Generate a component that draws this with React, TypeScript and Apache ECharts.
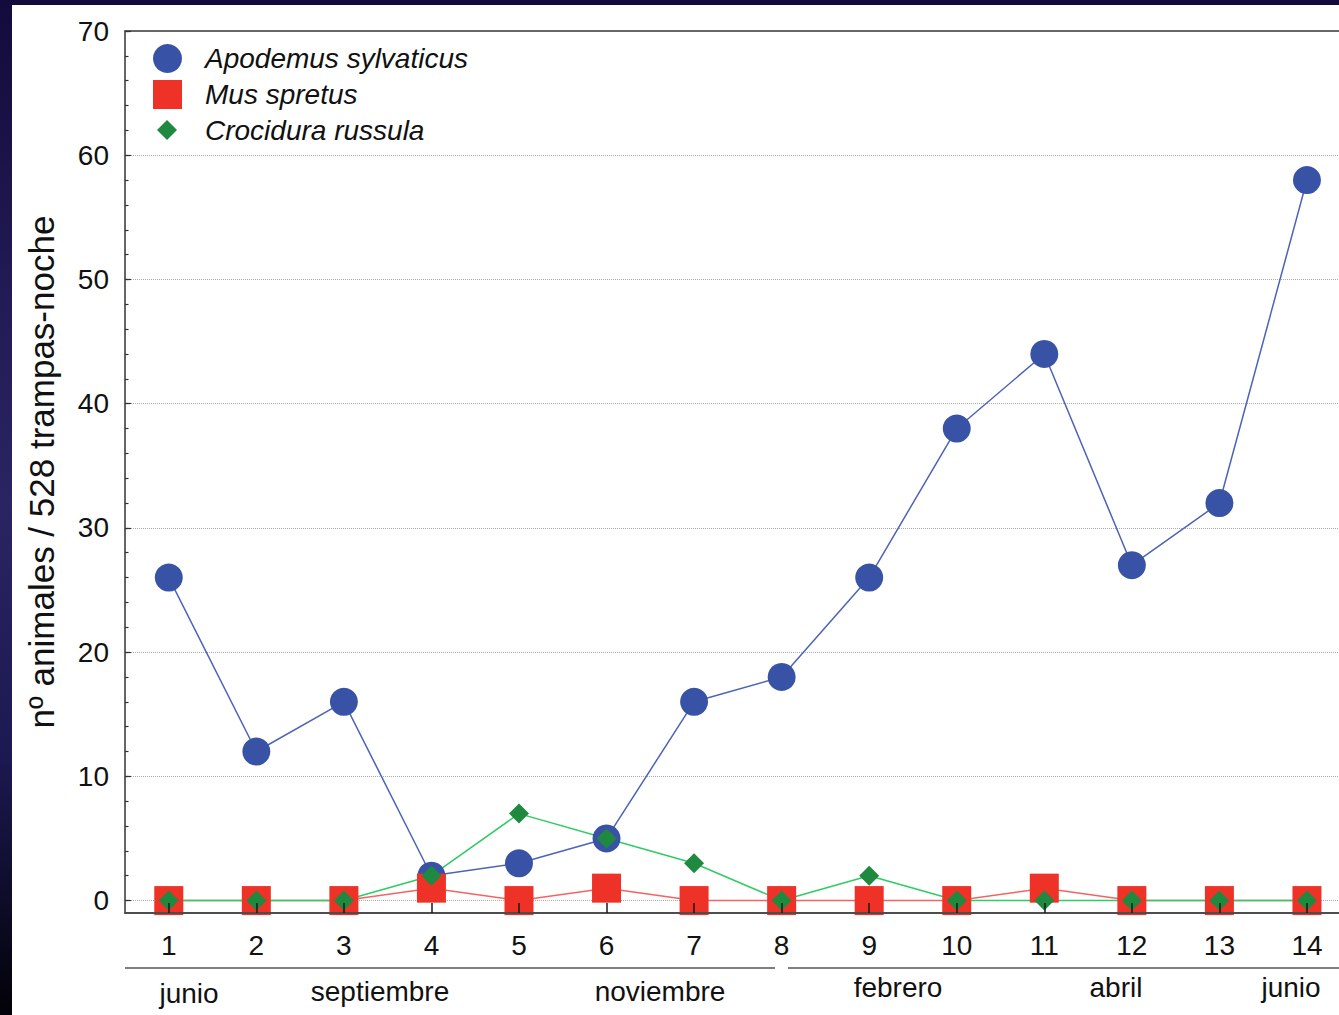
import React, { useEffect, useRef } from 'react';
import * as echarts from 'echarts';

const samples = [1, 2, 3, 4, 5, 6, 7, 8, 9, 10, 11, 12, 13, 14];
const apodemus = [26, 12, 16, 2, 3, 5, 16, 18, 26, 38, 44, 27, 32, 58];
const mus = [0, 0, 0, 1, 0, 1, 0, 0, 0, 0, 1, 0, 0, 0];
const crocidura = [0, 0, 0, 2, 7, 5, 3, 0, 2, 0, 0, 0, 0, 0];
const yMajorTicks = [0, 10, 20, 30, 40, 50, 60, 70];
const yMinorTicks = [0, 2, 4, 6, 8, 10, 12, 14, 16, 18, 20, 22, 24, 26, 28, 30, 32, 34, 36, 38, 40, 42, 44, 46, 48, 50, 52, 54, 56, 58, 60, 62, 64, 66, 68, 70];
const monthLabels = ['junio', 'septiembre', 'noviembre', 'febrero', 'abril', 'junio'];
const seriesNames = ['Apodemus sylvaticus', 'Mus spretus', 'Crocidura russula'];
const yTitle = 'nº animales / 528 trampas-noche';

// layout (pixel positions inside the chart div) for the month captions
const monthLayout = [
  { x: 177, y: 988 },
  { x: 368, y: 986 },
  { x: 648, y: 986 },
  { x: 886, y: 982 },
  { x: 1104, y: 982 },
  { x: 1279, y: 982 },
];

const FONT = '"Liberation Sans", Arial, sans-serif';

export default function App() {
  const ref = useRef<HTMLDivElement>(null);
  useEffect(() => {
    if (!ref.current) return;
    const chart = echarts.init(ref.current, null, { renderer: 'svg' });
    const pairs = (vals: number[]) => samples.map((s, i) => [s, vals[i]]);
    const legendText = (pad: number) => ({
      fontSize: 28,
      fontStyle: 'italic',
      color: '#111',
      fontFamily: FONT,
      padding: [0, 0, 0, pad],
    });
    chart.setOption({
      animation: false,
      backgroundColor: '#ffffff',
      textStyle: { fontFamily: FONT },
      grid: { left: 113, top: 26, right: 0, bottom: 102 },
      legend: [
        {
          data: [
            { name: seriesNames[0], icon: 'circle' },
            { name: seriesNames[1], icon: 'rect' },
          ],
          orient: 'vertical',
          left: 136,
          top: 34,
          itemWidth: 29,
          itemHeight: 29,
          itemGap: 7,
          selectedMode: false,
          textStyle: legendText(18),
        },
        {
          data: [{ name: seriesNames[2], icon: 'diamond' }],
          orient: 'vertical',
          left: 140,
          top: 106,
          itemWidth: 20,
          itemHeight: 20,
          selectedMode: false,
          textStyle: legendText(23),
        },
      ],
      xAxis: [
        {
          type: 'value',
          min: 0.5,
          max: 14.366,
          position: 'bottom',
          z: 10,
          axisLine: { show: true, onZero: false, lineStyle: { color: '#4d4d4d', width: 2 } },
          axisTick: {
            show: true,
            customValues: samples,
            inside: true,
            length: 10,
            lineStyle: { color: '#1a1a1a', width: 1.5 },
          },
          axisLabel: {
            customValues: samples,
            margin: 18,
            fontSize: 28,
            color: '#111',
            fontFamily: FONT,
          },
          splitLine: { show: false },
        },
        {
          type: 'value',
          min: 0.5,
          max: 14.366,
          position: 'top',
          axisLine: { show: true, onZero: false, lineStyle: { color: '#666', width: 2 } },
          axisTick: { show: false },
          axisLabel: { show: false },
          splitLine: { show: false },
        },
      ],
      yAxis: [
        {
          type: 'value',
          min: -1,
          max: 70,
          position: 'left',
          axisLine: { show: true, onZero: false, lineStyle: { color: '#333', width: 1.5 } },
          axisTick: {
            show: true,
            customValues: yMajorTicks,
            inside: true,
            length: 6,
            lineStyle: { color: '#333', width: 1.2 },
          },
          axisLabel: {
            customValues: yMajorTicks,
            margin: 16,
            fontSize: 28,
            color: '#111',
            fontFamily: FONT,
          },
          splitLine: { show: true, lineStyle: { type: 'dotted', color: '#aaaaaa', width: 1 } },
          name: yTitle,
          nameLocation: 'middle',
          nameGap: 66,
          nameTextStyle: { fontSize: 35, color: '#111', fontFamily: FONT },
        },
        {
          type: 'value',
          min: -1,
          max: 70,
          position: 'left',
          axisLine: { show: false, onZero: false },
          axisTick: {
            show: true,
            customValues: yMinorTicks,
            inside: true,
            length: 3.5,
            lineStyle: { color: '#333', width: 1.2 },
          },
          axisLabel: { show: false },
          splitLine: { show: false },
        },
      ],
      series: [
        {
          name: seriesNames[0],
          type: 'line',
          data: pairs(apodemus),
          symbol: 'circle',
          symbolSize: 28,
          clip: false,
          itemStyle: { color: '#3853a5' },
          lineStyle: { color: '#4c63b8', width: 1.5 },
        },
        {
          name: seriesNames[1],
          type: 'line',
          data: pairs(mus),
          symbol: 'rect',
          symbolSize: 29,
          clip: false,
          itemStyle: { color: '#ee3228' },
          lineStyle: { color: '#f26464', width: 1.5 },
        },
        {
          name: seriesNames[2],
          type: 'line',
          data: pairs(crocidura),
          symbol: 'diamond',
          symbolSize: 20,
          clip: false,
          itemStyle: { color: '#1f8a3f' },
          lineStyle: { color: '#2ecc63', width: 1.5 },
        },
      ],
      graphic: [
        {
          type: 'line',
          shape: { x1: 113, y1: 963, x2: 763, y2: 963 },
          style: { stroke: '#555', lineWidth: 1.5 },
        },
        {
          type: 'line',
          shape: { x1: 776, y1: 963, x2: 1327, y2: 963 },
          style: { stroke: '#555', lineWidth: 1.5 },
        },
        ...monthLabels.map((m, i) => ({
          type: 'text',
          x: monthLayout[i].x,
          y: monthLayout[i].y,
          style: {
            text: m,
            fontSize: 28,
            fontFamily: FONT,
            fill: '#111',
            textAlign: 'center',
            textVerticalAlign: 'middle',
          },
        })),
      ],
    });
    return () => chart.dispose();
  }, []);

  return (
    <div
      style={{
        position: 'absolute',
        left: 0,
        top: 0,
        width: 1339,
        height: 1015,
        overflow: 'hidden',
        background: 'linear-gradient(180deg, #130b3b 0%, #221b55 30%, #2a2462 50%, #1c1850 75%, #020208 100%)',
      }}
    >
      <div
        ref={ref}
        style={{ position: 'absolute', left: 12, top: 5, width: 1327, height: 1010, background: '#fff' }}
      />
    </div>
  );
}
